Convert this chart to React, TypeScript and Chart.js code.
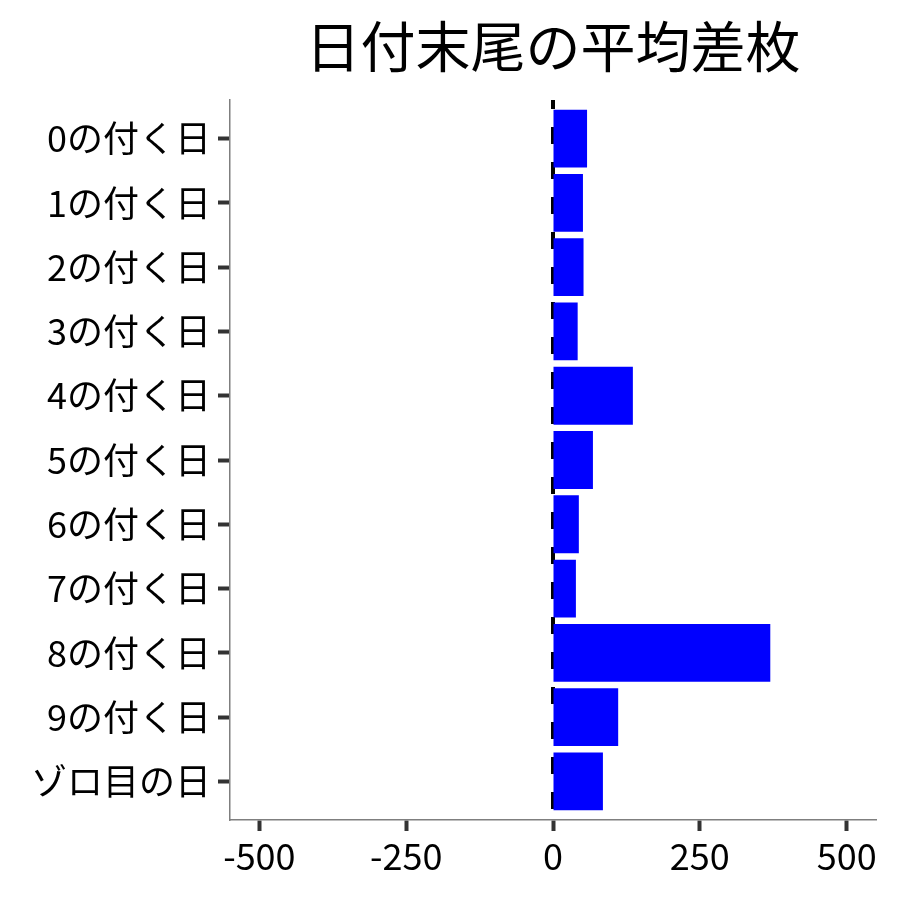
import React, { useEffect, useRef } from "react";
import { Chart, registerables } from "chart.js";

Chart.register(...registerables);

const title = "日付末尾の平均差枚";
const categories = [
  "0の付く日",
  "1の付く日",
  "2の付く日",
  "3の付く日",
  "4の付く日",
  "5の付く日",
  "6の付く日",
  "7の付く日",
  "8の付く日",
  "9の付く日",
  "ゾロ目の日",
];
const avgDiff = [58, 51, 52, 42, 136, 68, 44, 39, 370, 111, 85];
const xTicks = [-500, -250, 0, 250, 500];

const FONT = "'Noto Sans CJK JP', 'Noto Sans', sans-serif";

const zeroLine = {
  id: "zeroLine",
  beforeDatasetsDraw(chart: any) {
    const { ctx, chartArea, scales } = chart;
    const x = scales.x.getPixelForValue(0);
    ctx.save();
    ctx.strokeStyle = "#000";
    ctx.lineWidth = 4;
    ctx.setLineDash([17, 18]);
    ctx.lineDashOffset = 8;
    ctx.beginPath();
    ctx.moveTo(x, chartArea.top);
    ctx.lineTo(x, chartArea.bottom);
    ctx.stroke();
    ctx.restore();
  },
};

const panelTitle = {
  id: "panelTitle",
  afterDraw(chart: any) {
    const { ctx, chartArea } = chart;
    ctx.save();
    ctx.fillStyle = "#000";
    ctx.font = `55px ${FONT}`;
    ctx.textAlign = "center";
    ctx.textBaseline = "middle";
    ctx.fillText(title, (chartArea.left + chartArea.right) / 2, 46);
    ctx.restore();
  },
};

const App: React.FC = () => {
  const canvasRef = useRef<HTMLCanvasElement | null>(null);

  useEffect(() => {
    document.body.style.margin = "0";
    const ctx = canvasRef.current?.getContext("2d");
    if (!ctx) return;

    const chart = new Chart(ctx, {
      type: "bar",
      data: {
        datasets: [
          {
            data: avgDiff.map((v, i) => ({ x: v, y: i })),
            backgroundColor: "#0000FF",
            borderWidth: 0,
            categoryPercentage: 0.9,
            barPercentage: 1,
          },
        ],
      },
      options: {
        indexAxis: "y",
        animation: false,
        responsive: false,
        layout: { padding: { top: 100, right: 24, left: 0, bottom: 0 } },
        plugins: {
          legend: { display: false },
          title: { display: false },
          tooltip: { enabled: false },
        },
        scales: {
          x: {
            type: "linear",
            min: -550,
            max: 550,
            afterBuildTicks: (scale: any) => {
              scale.ticks = xTicks.map((v) => ({ value: v }));
            },
            afterFit: (scale: any) => {
              scale.height = 80;
            },
            border: { display: true, color: "#7f7f7f", width: 1.5 },
            grid: {
              drawOnChartArea: false,
              drawTicks: true,
              tickLength: 11,
              tickWidth: 4,
              tickColor: "#333",
            },
            ticks: {
              autoSkip: false,
              maxRotation: 0,
              padding: 4,
              color: "#000",
              font: { family: FONT, size: 36 },
              callback: (v: any) => String(v),
            },
          },
          y: {
            type: "linear",
            reverse: true,
            offset: false,
            min: -0.6,
            max: 10.6,
            afterBuildTicks: (scale: any) => {
              scale.ticks = categories.map((_, i) => ({ value: i }));
            },
            afterFit: (scale: any) => {
              scale.width = 230;
            },
            border: { display: true, color: "#7f7f7f", width: 1.5 },
            grid: {
              offset: false,
              drawOnChartArea: false,
              drawTicks: true,
              tickLength: 12,
              tickWidth: 4,
              tickColor: "#333",
            },
            ticks: {
              autoSkip: false,
              padding: 7,
              color: "#000",
              font: { family: FONT, size: 36 },
              callback: (v: any) => categories[v] ?? "",
            },
          },
        },
      },
      plugins: [zeroLine, panelTitle],
    });

    return () => {
      chart.destroy();
    };
  }, []);

  return (
    <div style={{ width: 900, height: 900, background: "#fff" }}>
      <canvas ref={canvasRef} width={900} height={900}></canvas>
    </div>
  );
};

export default App;
